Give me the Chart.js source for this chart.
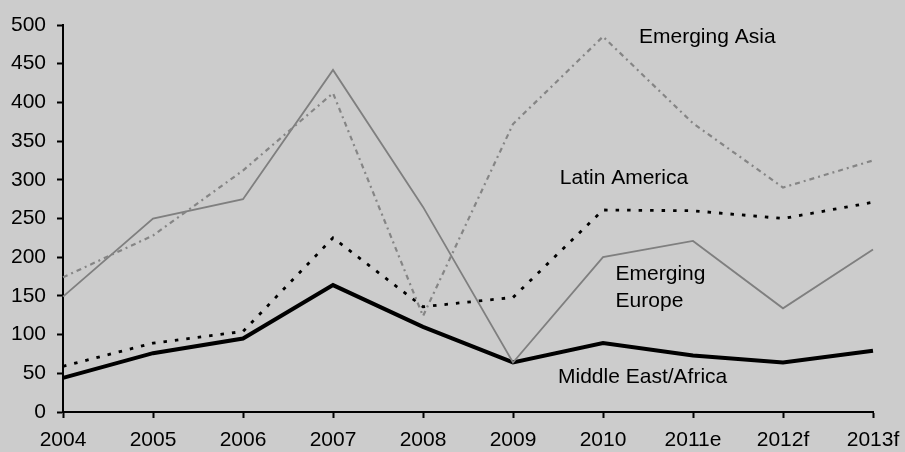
<!DOCTYPE html>
<html>
<head>
<meta charset="utf-8">
<script src="https://cdn.jsdelivr.net/npm/chart.js@4/dist/chart.umd.min.js"></script>
<style>
  html, body { margin: 0; padding: 0; background: #cccccc; }
  #wrap { width: 905px; height: 452px; position: relative; }
</style>
</head>
<body>
<div id="wrap"><canvas id="chart" width="905" height="452"></canvas></div>
<script>
// Categories and series values
const years = ['2004', '2005', '2006', '2007', '2008', '2009', '2010', '2011e', '2012f', '2013f'];
const emergingAsia = [174, 228, 312, 412, 124, 372, 485, 373, 290, 325];
const latinAmerica = [59, 89, 104, 225, 136, 148, 261, 260, 250, 271];
const emergingEurope = [149, 250, 275, 442, 265, 64, 200, 221, 134, 210];
const middleEastAfrica = [44, 76, 95, 164, 110, 64, 89, 73, 64, 79];
const yTicks = [0, 50, 100, 150, 200, 250, 300, 350, 400, 450, 500];

// In-plot series names, placed in data coordinates (category index, value)
const seriesNames = [
  { text: 'Emerging Asia', x: 6.4, y: 477 },
  { text: 'Latin America', x: 5.52, y: 295 },
  { text: 'Emerging', x: 6.14, y: 170 },
  { text: 'Europe', x: 6.14, y: 136 },
  { text: 'Middle East/Africa', x: 5.5, y: 38 }
];

const FONT = '"Liberation Sans", Arial, Helvetica, sans-serif';

const seriesNamePlugin = {
  id: 'seriesNames',
  afterDatasetsDraw(chart) {
    const { ctx, scales: { x, y } } = chart;
    ctx.save();
    ctx.font = '21px ' + FONT;
    ctx.fillStyle = '#000000';
    ctx.textAlign = 'left';
    ctx.textBaseline = 'alphabetic';
    seriesNames.forEach(n => {
      ctx.fillText(n.text, x.getPixelForValue(n.x), y.getPixelForValue(n.y));
    });
    ctx.restore();
  }
};

new Chart(document.getElementById('chart'), {
  type: 'line',
  data: {
    labels: years,
    datasets: [
      {
        label: 'Emerging Asia',
        data: emergingAsia,
        borderColor: '#858585',
        borderWidth: 2.2,
        borderDash: [5, 4, 2, 4]
      },
      {
        label: 'Emerging Europe',
        data: emergingEurope,
        borderColor: '#7f7f7f',
        borderWidth: 1.8
      },
      {
        label: 'Latin America',
        data: latinAmerica,
        borderColor: '#000000',
        borderWidth: 2.8,
        borderDash: [3.5, 8]
      },
      {
        label: 'Middle East/Africa',
        data: middleEastAfrica,
        borderColor: '#000000',
        borderWidth: 4
      }
    ]
  },
  options: {
    responsive: false,
    animation: false,
    devicePixelRatio: 1,
    elements: {
      point: { radius: 0, hoverRadius: 0 },
      line: { tension: 0, borderCapStyle: 'butt', borderJoinStyle: 'miter' }
    },
    layout: { padding: { top: 25, right: 32, left: 0, bottom: 0 } },
    plugins: {
      legend: { display: false },
      tooltip: { enabled: false },
      title: { display: false }
    },
    scales: {
      x: {
        offset: false,
        grid: {
          display: true,
          drawOnChartArea: false,
          drawTicks: true,
          tickLength: 6,
          tickWidth: 2,
          tickColor: '#000000'
        },
        border: { display: true, color: '#000000', width: 2 },
        ticks: {
          color: '#000000',
          font: { family: FONT, size: 21 },
          padding: 10,
          maxRotation: 0,
          autoSkip: false
        },
        afterFit(scale) {
          scale.height = 40;
          scale.paddingLeft = 0;
          scale.paddingRight = 0;
        }
      },
      y: {
        min: 0,
        max: 500,
        afterBuildTicks(scale) { scale.ticks = yTicks.map(v => ({ value: v })); },
        grid: {
          display: true,
          drawOnChartArea: false,
          drawTicks: true,
          tickLength: 6,
          tickWidth: 2,
          tickColor: '#000000'
        },
        border: { display: true, color: '#000000', width: 2 },
        ticks: {
          color: '#000000',
          font: { family: FONT, size: 21 },
          padding: 11
        },
        afterFit(scale) { scale.width = 63; }
      }
    }
  },
  plugins: [seriesNamePlugin]
});
</script>
</body>
</html>
